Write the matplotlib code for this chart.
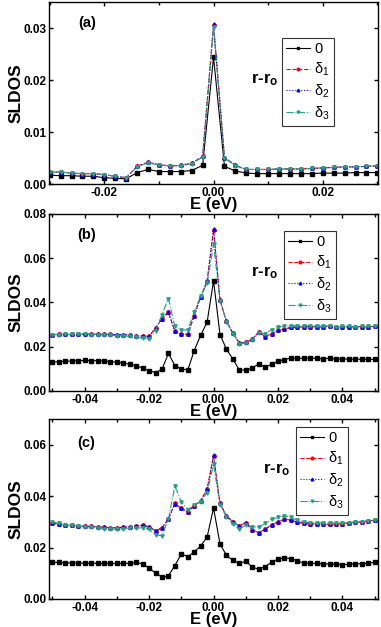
import numpy as np
import matplotlib.pyplot as plt

plt.rcParams['font.family'] = ['Liberation Sans', 'DejaVu Sans']
plt.rcParams['mathtext.fontset'] = 'custom'
plt.rcParams['mathtext.rm'] = 'Liberation Sans'
plt.rcParams['mathtext.it'] = 'Liberation Sans'
plt.rcParams['mathtext.bf'] = 'Liberation Sans:bold'

# energy grids (eV)
E_a = np.linspace(-0.03, 0.03, 31)
E_bc = np.linspace(-0.05, 0.05, 51)

# panel (a)
s0_a = [0.0017, 0.0016, 0.0016, 0.0015, 0.0015, 0.0012, 0.0011, 0.0010, 0.0022, 0.0028,
        0.0024, 0.0024, 0.0024, 0.0026, 0.0036, 0.0244, 0.0034, 0.0025, 0.0021, 0.0020,
        0.0020, 0.0020, 0.0020, 0.0020, 0.0020, 0.0021, 0.0021, 0.0021, 0.0022, 0.0022, 0.0022]
s1_a = [0.0023, 0.0023, 0.0021, 0.0020, 0.0020, 0.0018, 0.0015, 0.0012, 0.0034, 0.0042,
        0.0037, 0.0035, 0.0036, 0.0040, 0.0053, 0.0305, 0.0051, 0.0036, 0.0028, 0.0028,
        0.0028, 0.0029, 0.0029, 0.0029, 0.0030, 0.0031, 0.0032, 0.0033, 0.0033, 0.0034, 0.0035]
s2_a = [0.0023, 0.0023, 0.0021, 0.0020, 0.0020, 0.0018, 0.0015, 0.0012, 0.0034, 0.0042,
        0.0037, 0.0035, 0.0036, 0.0040, 0.0053, 0.0308, 0.0051, 0.0036, 0.0028, 0.0028,
        0.0028, 0.0029, 0.0029, 0.0029, 0.0030, 0.0031, 0.0032, 0.0033, 0.0033, 0.0034, 0.0035]
s3_a = [0.0023, 0.0023, 0.0021, 0.0020, 0.0020, 0.0018, 0.0015, 0.0012, 0.0033, 0.0041,
        0.0036, 0.0035, 0.0035, 0.0039, 0.0052, 0.0301, 0.0050, 0.0035, 0.0028, 0.0028,
        0.0028, 0.0029, 0.0029, 0.0029, 0.0030, 0.0031, 0.0032, 0.0033, 0.0033, 0.0034, 0.0035]

# panel (b)
s0_b = [0.0130, 0.0133, 0.0134, 0.0136, 0.0137, 0.0138, 0.0137, 0.0137, 0.0135, 0.0133,
        0.0130, 0.0126, 0.0121, 0.0115, 0.0103, 0.0092, 0.0083, 0.0098, 0.0170, 0.0115,
        0.0100, 0.0095, 0.0182, 0.0252, 0.0311, 0.0498, 0.0255, 0.0189, 0.0144, 0.0095,
        0.0095, 0.0103, 0.0123, 0.0108, 0.0121, 0.0135, 0.0141, 0.0150, 0.0147, 0.0148,
        0.0150, 0.0147, 0.0146, 0.0148, 0.0144, 0.0145, 0.0144, 0.0143, 0.0144, 0.0143, 0.0143]
s1_b = [0.0255, 0.0256, 0.0256, 0.0256, 0.0257, 0.0257, 0.0257, 0.0257, 0.0256, 0.0256,
        0.0255, 0.0255, 0.0253, 0.0250, 0.0248, 0.0247, 0.0285, 0.0326, 0.0356, 0.0270,
        0.0256, 0.0256, 0.0341, 0.0424, 0.0497, 0.0728, 0.0411, 0.0315, 0.0262, 0.0217,
        0.0220, 0.0235, 0.0265, 0.0247, 0.0259, 0.0274, 0.0280, 0.0287, 0.0289, 0.0290,
        0.0291, 0.0290, 0.0290, 0.0293, 0.0288, 0.0290, 0.0290, 0.0290, 0.0291, 0.0291, 0.0292]
s2_b = [0.0255, 0.0256, 0.0256, 0.0256, 0.0257, 0.0257, 0.0257, 0.0257, 0.0256, 0.0256,
        0.0255, 0.0255, 0.0253, 0.0250, 0.0248, 0.0247, 0.0285, 0.0326, 0.0356, 0.0270,
        0.0256, 0.0256, 0.0341, 0.0424, 0.0497, 0.0732, 0.0411, 0.0315, 0.0262, 0.0217,
        0.0220, 0.0235, 0.0265, 0.0245, 0.0259, 0.0274, 0.0280, 0.0287, 0.0289, 0.0290,
        0.0291, 0.0290, 0.0290, 0.0293, 0.0288, 0.0290, 0.0290, 0.0290, 0.0291, 0.0291, 0.0292]
s3_b = [0.0255, 0.0255, 0.0256, 0.0256, 0.0256, 0.0256, 0.0255, 0.0254, 0.0253, 0.0252,
        0.0250, 0.0249, 0.0247, 0.0244, 0.0239, 0.0235, 0.0273, 0.0345, 0.0418, 0.0292,
        0.0276, 0.0276, 0.0358, 0.0429, 0.0486, 0.0664, 0.0409, 0.0314, 0.0259, 0.0214,
        0.0217, 0.0229, 0.0262, 0.0259, 0.0277, 0.0288, 0.0292, 0.0295, 0.0295, 0.0295,
        0.0295, 0.0294, 0.0293, 0.0295, 0.0290, 0.0292, 0.0292, 0.0291, 0.0292, 0.0292, 0.0293]

# panel (c)
s0_c = [0.0143, 0.0142, 0.0141, 0.0140, 0.0140, 0.0139, 0.0139, 0.0139, 0.0138, 0.0138,
        0.0138, 0.0138, 0.0139, 0.0142, 0.0137, 0.0120, 0.0101, 0.0085, 0.0090, 0.0130,
        0.0175, 0.0165, 0.0183, 0.0206, 0.0241, 0.0354, 0.0214, 0.0170, 0.0150, 0.0138,
        0.0147, 0.0124, 0.0116, 0.0126, 0.0143, 0.0155, 0.0160, 0.0157, 0.0148, 0.0139,
        0.0139, 0.0138, 0.0137, 0.0136, 0.0136, 0.0133, 0.0135, 0.0137, 0.0137, 0.0139, 0.0143]
s1_c = [0.0294, 0.0292, 0.0288, 0.0286, 0.0284, 0.0283, 0.0282, 0.0280, 0.0279, 0.0277,
        0.0277, 0.0279, 0.0281, 0.0284, 0.0286, 0.0281, 0.0265, 0.0277, 0.0311, 0.0372,
        0.0352, 0.0339, 0.0363, 0.0382, 0.0427, 0.0555, 0.0372, 0.0323, 0.0301, 0.0284,
        0.0297, 0.0268, 0.0258, 0.0271, 0.0288, 0.0301, 0.0310, 0.0307, 0.0299, 0.0294,
        0.0292, 0.0292, 0.0291, 0.0290, 0.0292, 0.0293, 0.0297, 0.0298, 0.0300, 0.0303, 0.0307]
s2_c = [0.0294, 0.0292, 0.0288, 0.0286, 0.0284, 0.0283, 0.0282, 0.0280, 0.0279, 0.0277,
        0.0277, 0.0279, 0.0281, 0.0284, 0.0286, 0.0281, 0.0265, 0.0277, 0.0311, 0.0370,
        0.0352, 0.0339, 0.0363, 0.0382, 0.0427, 0.0559, 0.0372, 0.0323, 0.0301, 0.0284,
        0.0297, 0.0268, 0.0258, 0.0271, 0.0288, 0.0301, 0.0310, 0.0307, 0.0299, 0.0294,
        0.0292, 0.0292, 0.0291, 0.0290, 0.0292, 0.0293, 0.0297, 0.0298, 0.0300, 0.0303, 0.0307]
s3_c = [0.0299, 0.0294, 0.0289, 0.0286, 0.0282, 0.0281, 0.0279, 0.0276, 0.0274, 0.0272,
        0.0271, 0.0274, 0.0276, 0.0277, 0.0276, 0.0271, 0.0249, 0.0246, 0.0311, 0.0439,
        0.0378, 0.0348, 0.0365, 0.0379, 0.0414, 0.0524, 0.0365, 0.0320, 0.0292, 0.0271,
        0.0288, 0.0281, 0.0279, 0.0294, 0.0310, 0.0317, 0.0323, 0.0317, 0.0307, 0.0299,
        0.0297, 0.0297, 0.0296, 0.0296, 0.0296, 0.0295, 0.0297, 0.0299, 0.0301, 0.0303, 0.0307]

labels = ['0', r'$\delta_1$', r'$\delta_2$', r'$\delta_3$']
colors = ['black', 'red', 'blue', '#2a9d85']
styles = ['-', '--', ':', '-.']
markers = ['s', 'o', '^', 'v']

panels = [
    ('(a)', E_a, [s0_a, s1_a, s2_a, s3_a], (-0.0301, 0.0301), (0, 0.035),
     [-0.02, 0.0, 0.02], [0.0, 0.01, 0.02, 0.03], (0.708, 0.802), (0.615, 0.571), (0.088, 0.885)),
    ('(b)', E_bc, [s0_b, s1_b, s2_b, s3_b], (-0.051, 0.051), (0, 0.08),
     [-0.04, -0.02, 0.0, 0.02, 0.04], [0.0, 0.02, 0.04, 0.06, 0.08], (0.714, 0.904), (0.615, 0.667), (0.085, 0.881)),
    ('(c)', E_bc, [s0_c, s1_c, s2_c, s3_c], (-0.051, 0.051), (0, 0.07),
     [-0.04, -0.02, 0.0, 0.02, 0.04], [0.0, 0.02, 0.04, 0.06], (0.751, 0.956), (0.65, 0.717), (0.085, 0.867)),
]
boxes = [(0.129, 0.7065, 0.863, 0.2903),
         (0.129, 0.3764, 0.863, 0.2823),
         (0.129, 0.0447, 0.863, 0.287)]

fig = plt.figure(figsize=(3.81, 6.27), dpi=100)

for (tag, E, series, xl, yl, xt, yt, legpos, rpos, tagpos), box in zip(panels, boxes):
    ax = fig.add_axes(box)
    for y, lab, c, ls, m in zip(series, labels, colors, styles, markers):
        ax.plot(E, y, ls=ls, color=c, marker=m, ms=2.4, lw=0.8, label=lab)
    ax.set_xticks(xt)
    ax.set_yticks(yt)
    ax.set_xticklabels(['%.2f' % v for v in xt], fontweight='bold')
    ax.set_yticklabels(['%.2f' % v for v in yt], fontweight='bold')
    ax.set_xticks(np.arange(-0.05, 0.051, 0.01), minor=True)
    ax.set_xlim(xl)
    ax.set_ylim(yl)
    ax.tick_params(which='both', direction='in', top=True, right=True, labelsize=8.5, width=1)
    ax.tick_params(which='major', length=3, pad=2)
    ax.tick_params(which='minor', length=2)
    for sp in ax.spines.values():
        sp.set_linewidth(1.0)
    ax.set_xlabel('E (eV)', fontsize=12, fontweight='bold', labelpad=-1)
    ax.set_ylabel('SLDOS', fontsize=12.5, fontweight='bold', labelpad=0)
    ax.text(tagpos[0], tagpos[1], tag, transform=ax.transAxes, fontsize=10.5,
            fontweight='bold', ha='left', va='center')
    ax.text(rpos[0], rpos[1], r'r-r$_\mathbf{o}$', transform=ax.transAxes, fontsize=12,
            fontweight='bold', ha='left', va='center')
    leg = ax.legend(loc='upper left', bbox_to_anchor=legpos, fontsize=10.5, frameon=True,
                    fancybox=False, edgecolor='black', handlelength=1.6, handletextpad=0.3,
                    labelspacing=0.3, borderpad=0.3, borderaxespad=0, markerscale=0.8)
    leg.get_frame().set_linewidth(0.8)

fig.savefig('out.png', dpi=100)
